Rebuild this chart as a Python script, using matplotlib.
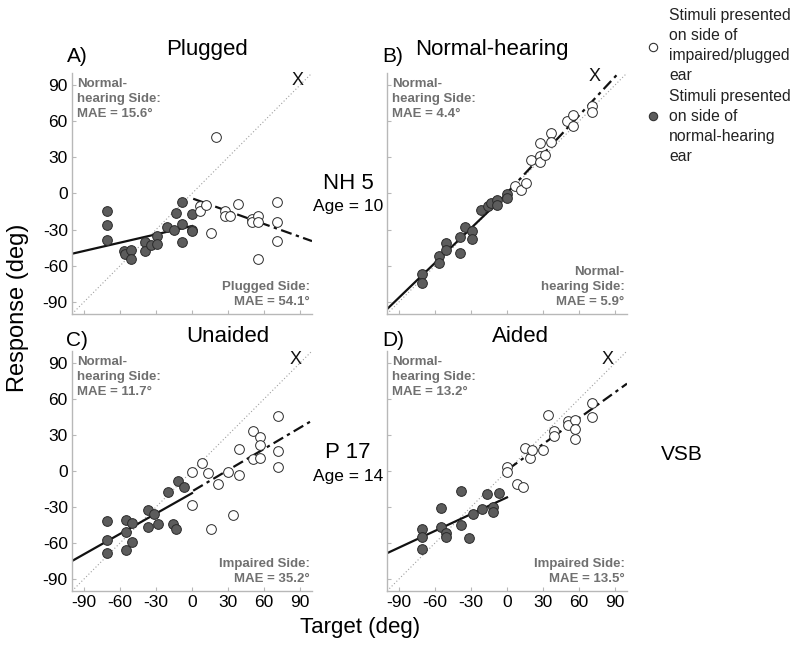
import matplotlib
matplotlib.use("Agg")
import matplotlib.pyplot as plt
import numpy as np

plt.rcParams['font.family'] = ['Liberation Sans', 'DejaVu Sans']

# ---------------- data ----------------
# Panel A (Plugged)
a_norm_x = [-71, -71, -71, -57, -56, -51, -51, -39, -39, -34, -29, -29, -21, -15, -13, -8, -8, -8, 0, 0, 0]
a_norm_y = [-14.5, -26, -39, -48, -50, -47, -54, -40, -48, -43, -35, -42, -28, -30, -16, -7, -25, -40, -17, -30, -31]
a_imp_x = [20, 7, 7, 12, 16, 27.5, 27.5, 32, 38, 50, 50, 55, 55, 55, 71, 71, 71]
a_imp_y = [47, -10, -14.5, -9.5, -33, -14.5, -19, -19, -9, -21, -24, -19, -24, -54, -7, -24, -39.5]

# Panel B (Normal-hearing)
b_norm_x = [-71, -71, -57, -57, -51, -51, -39, -39, -35, -29, -29, -22, -16, -13.5, -8, -8, 0, 0]
b_norm_y = [-67, -74, -52, -58, -41, -47, -36, -49, -27.5, -31, -38, -14, -10, -7.5, -5, -9.5, -0.5, -4]
b_imp_x = [7, 11.5, 16, 20, 27.5, 27.5, 27.5, 32, 37, 37, 50, 55, 55, 70.5, 70.5]
b_imp_y = [6, 3, 8.5, 28, 42, 31.5, 26.5, 32, 50, 43, 60, 65, 56, 72.5, 68]

# Panel C (Unaided)
c_norm_x = [-70.5, -70.5, -70.5, -55, -55, -55, -50, -50, -37, -37, -31.5, -28, -20, -16, -13, -11.5, -7]
c_norm_y = [-42, -57.5, -68, -41, -51, -66, -43.5, -59.5, -32.5, -47, -36, -44, -17.5, -44, -48, -8, -13.5]
c_imp_x = [0, 0, 8.5, 13, 15.5, 22, 30, 34.5, 39.5, 39.5, 51, 51, 57, 57, 57, 71.5, 71.5, 71.5]
c_imp_y = [-1, -28, 7, -2, -48.5, -11, -1, -37, 18, -3, 33, 10, 28, 22, 11, 46, 16.5, 3]

# Panel D (Aided)
d_norm_x = [-70.5, -70.5, -70.5, -55, -55, -51, -51, -38, -38, -31.5, -28, -20.5, -16.5, -12, -12, -6.5]
d_norm_y = [-48, -55, -65, -30.5, -47, -51.5, -55, -16.5, -45, -56, -36, -31.5, -19, -30, -34, -18]
d_imp_x = [0, 0, 8, 13, 15, 19, 21, 30, 34, 39, 39, 50.5, 50.5, 56.5, 56.5, 56.5, 71, 71]
d_imp_y = [3, -1, -11, -13, 19.5, 11, 17.5, 17.5, 47, 33.5, 29, 41.5, 38.5, 42.5, 35, 27, 57, 45]

# regression lines (slope, intercept) for normal-hearing side / impaired side
norm_fit = {'A': (0.23, -27.0), 'B': (0.96, 0.0), 'C': (0.565, -18.5), 'D': (0.465, -22.0)}
imp_fit = {'A': (-0.355, -4.0), 'B': (1.07, 0.5), 'C': (0.59, -17.0), 'D': (0.72, 0.8)}

panel_letters = ['A)', 'B)', 'C)', 'D)']
panel_titles = ['Plugged', 'Normal-hearing', 'Unaided', 'Aided']
norm_mae = ['15.6', '4.4', '11.7', '13.2']
imp_labels = ['Plugged Side:', 'Normal-\nhearing Side:', 'Impaired Side:', 'Impaired Side:']
imp_mae = ['54.1', '5.9', '35.2', '13.5']
x_marks = [(88, 94), (73, 97), (86, 93), (84, 93)]
ticks = [-90, -60, -30, 0, 30, 60, 90]

# ---------------- figure ----------------
W, H = 800, 650
fig = plt.figure(figsize=(W / 100, H / 100), dpi=100)

def px_axes(l, t, r, b):
    return fig.add_axes([l / W, 1 - b / H, (r - l) / W, (b - t) / H])

def ftext(x, y, s, **kw):
    return fig.text(x / W, 1 - y / H, s, **kw)

boxes = [(72, 73, 312, 314), (387, 73, 627, 314), (72, 351, 312, 591), (387, 351, 627, 591)]
letter_pos = [(77, 57), (393, 57), (77, 341), (393, 341)]
title_pos = [(207, 50), (492, 50), (228, 336), (520, 336)]
data = [(a_norm_x, a_norm_y, a_imp_x, a_imp_y),
        (b_norm_x, b_norm_y, b_imp_x, b_imp_y),
        (c_norm_x, c_norm_y, c_imp_x, c_imp_y),
        (d_norm_x, d_norm_y, d_imp_x, d_imp_y)]
keys = ['A', 'B', 'C', 'D']

gray_txt = '#707070'
spine_c = '#b8b8b8'
fill_c = '#5c5c5c'
edge_c = '#2a2a2a'

for i, (box, (nx, ny, ix, iy), k) in enumerate(zip(boxes, data, keys)):
    ax = px_axes(*box)
    ax.set_xlim(-100, 100)
    ax.set_ylim(-100, 100)
    for s in ['top', 'right']:
        ax.spines[s].set_visible(False)
    for s in ['left', 'bottom']:
        ax.spines[s].set_color(spine_c)
        ax.spines[s].set_linewidth(1.0)
    ax.set_xticks(ticks)
    ax.set_yticks(ticks)
    ax.tick_params(direction='in', length=3, color=spine_c, labelsize=12.5, pad=3)
    if i in (0, 1):
        ax.set_xticklabels([])
    else:
        ax.set_xticklabels([str(t) for t in ticks])
    if i in (1, 3):
        ax.set_yticklabels([])
    else:
        ax.set_yticklabels([str(t) for t in ticks])

    # diagonal reference
    ax.plot([-100, 100], [-100, 100], ls=(0, (1, 2)), color='#a0a0a0', lw=0.8, zorder=1)

    # regression lines
    sl, ic = norm_fit[k]
    xs = np.array([-100, 0])
    ax.plot(xs, sl * xs + ic, color='#111111', lw=1.6, zorder=2)
    sl, ic = imp_fit[k]
    xs = np.array([1, 100])
    ax.plot(xs, sl * xs + ic, color='#111111', lw=1.6, ls=(0, (5, 2, 1.5, 2)), zorder=2)

    # points
    ax.plot(nx, ny, 'o', ms=7, mfc=fill_c, mec=edge_c, mew=0.7, zorder=3, clip_on=False)
    ax.plot(ix, iy, 'o', ms=7, mfc='white', mec=edge_c, mew=0.7, zorder=3, clip_on=False)

    # X mark
    ax.text(x_marks[i][0], x_marks[i][1], 'X', fontsize=13, ha='center', va='center', color='#111111')

    # annotations
    ax.text(-96, 96, 'Normal-\nhearing Side:\nMAE = %s°' % norm_mae[i], fontsize=9.5,
            fontweight='bold', color=gray_txt, ha='left', va='top', linespacing=1.35)
    ax.text(98, -95, '%s\nMAE = %s°' % (imp_labels[i], imp_mae[i]), fontsize=9.5,
            fontweight='bold', color=gray_txt, ha='right', va='bottom', linespacing=1.35,
            multialignment='right')

    # titles
    ftext(*letter_pos[i], panel_letters[i], fontsize=15, ha='center', va='center')
    ftext(*title_pos[i], panel_titles[i], fontsize=16, ha='center', va='center')

# side labels
ftext(348, 184, 'NH 5', fontsize=16, ha='center', va='center')
ftext(348, 207, 'Age = 10', fontsize=12.5, ha='center', va='center')
ftext(348, 452, 'P 17', fontsize=16, ha='center', va='center')
ftext(348, 477, 'Age = 14', fontsize=12.5, ha='center', va='center')
ftext(682, 455, 'VSB', fontsize=15, ha='center', va='center')

# axis labels
ftext(360, 628, 'Target (deg)', fontsize=16, ha='center', va='center')
ftext(18, 308, 'Response (deg)', fontsize=17, ha='center', va='center', rotation=90)

# legend
fig.add_artist(plt.Line2D([653 / W], [1 - 47 / H], marker='o', ms=6, mfc='white', mec='#333333',
                          mew=0.8, transform=fig.transFigure))
fig.add_artist(plt.Line2D([653 / W], [1 - 116 / H], marker='o', ms=6, mfc=fill_c, mec='#333333',
                          mew=0.8, transform=fig.transFigure))
ftext(669, 8, 'Stimuli presented\non side of\nimpaired/plugged\near', fontsize=11.3,
      ha='left', va='top', linespacing=1.42, color='#222222')
ftext(669, 89, 'Stimuli presented\non side of\nnormal-hearing\near', fontsize=11.3,
      ha='left', va='top', linespacing=1.42, color='#222222')

fig.savefig('out.png', dpi=100)
